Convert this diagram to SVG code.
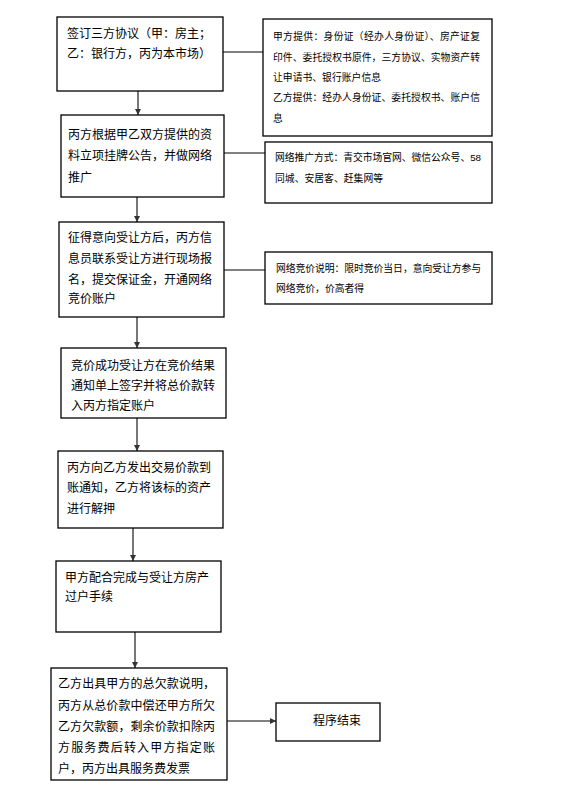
<svg xmlns="http://www.w3.org/2000/svg" width="572" height="808" viewBox="0 0 572 808">
<defs>
<style>
.box{fill:#fff;stroke:#000;stroke-width:1.3}
.t{font-family:"Liberation Sans","Noto Sans CJK SC",sans-serif;font-size:12px;fill:#000}
.n{font-family:"Liberation Sans","Noto Sans CJK SC",sans-serif;font-size:9.8px;fill:#000}
.v{stroke:#555;stroke-width:1.6;fill:none}
.h{stroke:#808080;stroke-width:2;fill:none}
</style>
<marker id="ah" viewBox="0 0 8 8" refX="8" refY="4" markerWidth="6" markerHeight="6" markerUnits="userSpaceOnUse" orient="auto">
<path d="M0,0 L8,4 L0,8 z" fill="#333"/>
</marker>
</defs>
<rect width="572" height="808" fill="#fff"/>
<g id="connectors">
<line class="v" x1="138" y1="91" x2="138" y2="115" marker-end="url(#ah)"/>
<line class="v" x1="137" y1="197" x2="137" y2="222" marker-end="url(#ah)"/>
<line class="v" x1="137" y1="317" x2="137" y2="348" marker-end="url(#ah)"/>
<line class="v" x1="137" y1="418" x2="137" y2="451" marker-end="url(#ah)"/>
<line class="v" x1="133" y1="528" x2="133" y2="561" marker-end="url(#ah)"/>
<line class="v" x1="135" y1="632" x2="135" y2="668" marker-end="url(#ah)"/>
<line class="h" x1="223" y1="52" x2="263" y2="52"/>
<line class="h" x1="224" y1="153" x2="265" y2="153"/>
<line class="h" x1="224" y1="270" x2="265" y2="270"/>
<line class="h" x1="227" y1="721" x2="276" y2="721" marker-end="url(#ah)"/>
</g>
<g id="step1">
<rect class="box" x="57" y="17" width="166" height="74"/>
<text class="t" x="67" y="37.5">签订三方协议（甲：房主；</text>
<text class="t" x="67" y="58">乙：银行方，丙为本市场）</text>
</g>
<g id="note1">
<rect class="box" x="263" y="19" width="229" height="117"/>
<text class="n" x="273" y="39.5" textLength="207" lengthAdjust="spacing">甲方提供：身份证（经办人身份证）、房产证复</text>
<text class="n" x="273" y="60.5" textLength="207" lengthAdjust="spacing">印件、委托授权书原件，三方协议、实物资产转</text>
<text class="n" x="273" y="80.5" textLength="108" lengthAdjust="spacing">让申请书、银行账户信息</text>
<text class="n" x="273" y="100.5" textLength="207" lengthAdjust="spacing">乙方提供：经办人身份证、委托授权书、账户信</text>
<text class="n" x="273" y="121.5">息</text>
</g>
<g id="step2">
<rect class="box" x="61" y="115" width="163" height="82"/>
<text class="t" x="68" y="138.5">丙方根据甲乙双方提供的资</text>
<text class="t" x="68" y="159.5">料立项挂牌公告，并做网络</text>
<text class="t" x="68" y="181.5">推广</text>
</g>
<g id="note2">
<rect class="box" x="265" y="142" width="227" height="61"/>
<text class="n" x="275" y="160.5" textLength="206" lengthAdjust="spacing">网络推广方式：青交市场官网、微信公众号、58</text>
<text class="n" x="275" y="181.5" textLength="108" lengthAdjust="spacing">同城、安居客、赶集网等</text>
</g>
<g id="step3">
<rect class="box" x="59" y="222" width="165" height="95"/>
<text class="t" x="68" y="241.5">征得意向受让方后，丙方信</text>
<text class="t" x="68" y="262.5">息员联系受让方进行现场报</text>
<text class="t" x="68" y="283.5">名，提交保证金，开通网络</text>
<text class="t" x="68" y="302.5">竞价账户</text>
</g>
<g id="note3">
<rect class="box" x="265" y="252" width="227" height="52"/>
<text class="n" x="276" y="271.5" textLength="205" lengthAdjust="spacing">网络竞价说明：限时竞价当日，意向受让方参与</text>
<text class="n" x="276" y="291.5" textLength="88" lengthAdjust="spacing">网络竞价，价高者得</text>
</g>
<g id="step4">
<rect class="box" x="61" y="348" width="165" height="70"/>
<text class="t" x="71" y="369.5">竞价成功受让方在竞价结果</text>
<text class="t" x="71" y="389.5">通知单上签字并将总价款转</text>
<text class="t" x="71" y="409.5">入丙方指定账户</text>
</g>
<g id="step5">
<rect class="box" x="58" y="451" width="165" height="77"/>
<text class="t" x="67" y="471.5">丙方向乙方发出交易价款到</text>
<text class="t" x="67" y="491.5">账通知，乙方将该标的资产</text>
<text class="t" x="67" y="512.5">进行解押</text>
</g>
<g id="step6">
<rect class="box" x="56" y="561" width="165" height="71"/>
<text class="t" x="65" y="581.5">甲方配合完成与受让方房产</text>
<text class="t" x="65" y="600.5">过户手续</text>
</g>
<g id="step7">
<rect class="box" x="51" y="668" width="176" height="112"/>
<text class="t" x="58" y="687.5" textLength="157" lengthAdjust="spacing">乙方出具甲方的总欠款说明，</text>
<text class="t" x="58" y="709.5" textLength="157" lengthAdjust="spacing">丙方从总价款中偿还甲方所欠</text>
<text class="t" x="58" y="730.5" textLength="157" lengthAdjust="spacing">乙方欠款额，剩余价款扣除丙</text>
<text class="t" x="58" y="751.5" textLength="157" lengthAdjust="spacing">方服务费后转入甲方指定账</text>
<text class="t" x="58" y="772.5">户，丙方出具服务费发票</text>
</g>
<g id="end">
<rect class="box" x="276" y="703" width="104" height="38"/>
<text class="t" x="337" y="724.5" text-anchor="middle">程序结束</text>
</g>
</svg>
